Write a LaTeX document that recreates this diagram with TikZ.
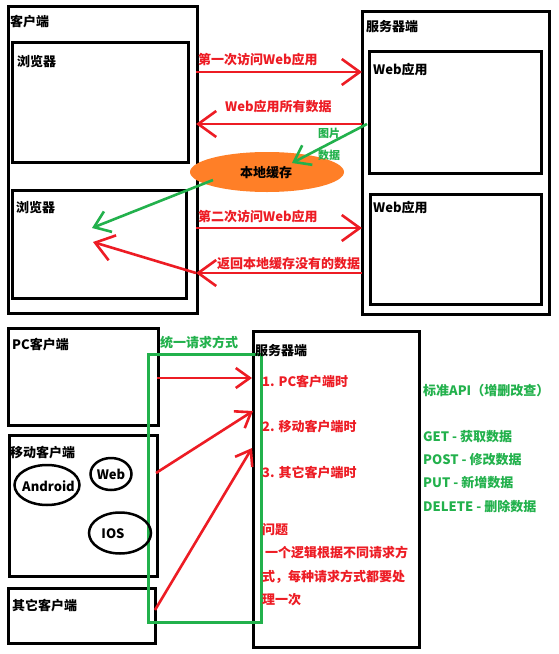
\documentclass[tikz,border=0pt]{standalone}
\usepackage{fontspec}
\setmainfont{Noto Sans CJK SC}
\usetikzlibrary{arrows.meta,shapes.geometric,positioning}
\definecolor{pred}{RGB}{237,28,36}
\definecolor{pgreen}{RGB}{34,177,76}
\definecolor{porange}{RGB}{255,127,39}
\tikzset{
  box/.style={draw,line width=3pt,anchor=north west,inner sep=0pt},
  oval/.style={draw,ellipse,line width=2.5pt,inner sep=0pt},
  lbl/.style={anchor=west,inner sep=0pt,font=\bfseries\fontsize{13}{15}\selectfont},
  rarr/.style={draw=pred,line width=2.6pt,-{Straight Barb[length=18pt,width=26pt]}},
  rarrs/.style={draw=pred,line width=2.6pt,-{Straight Barb[length=14pt,width=20pt]}},
  garr/.style={draw=pgreen,line width=2.6pt,-{Straight Barb[length=15pt,width=22pt]}}
}
\begin{document}
\begin{tikzpicture}[x=1pt,y=-1pt]
\useasboundingbox[fill=white] (0,0) rectangle (558,654);
% top: client, server and the local cache
\node[box,minimum width=189pt,minimum height=307pt] (client) at (7,5) {};
\node[box,minimum width=176pt,minimum height=120pt] (brow1) at (11,41) {};
\node[box,minimum width=174pt,minimum height=108pt] (brow2) at (11,189) {};
\node[box,minimum width=187pt,minimum height=303pt] (server) at (361,10) {};
\node[box,minimum width=172pt,minimum height=122pt] (web1) at (368,50) {};
\node[box,minimum width=171pt,minimum height=110pt] (web2) at (369,193) {};
\node[ellipse,fill=porange,minimum width=154pt,minimum height=40pt] (cache) at (267,172) {};

\node[lbl] (tclient) at (10,22) {客户端};
\node[lbl] (tbrow1) at (17,62) {浏览器};
\node[lbl] (tbrow2) at (16,208) {浏览器};
\node[lbl] (tserver) at (366,27) {服务器端};
\node[lbl] (tweb1) at (373,70) {Web应用};
\node[lbl] (tweb2) at (373,208) {Web应用};
\node[lbl,anchor=center] (tcache) at (266,173) {本地缓存};

\coordinate (a1s) at (196,72);   \coordinate (a1e) at (362,72);
\coordinate (a2s) at (362,124);  \coordinate (a2e) at (196,124);
\coordinate (g1s) at (367,124);  \coordinate (g1e) at (292,163);
\coordinate (g2s) at (213,180);  \coordinate (g2e) at (92,228);
\coordinate (a3s) at (196,228);  \coordinate (a3e) at (362,228);
\coordinate (a4s) at (362,273);  \coordinate (a4e) at (196,273);
\coordinate (a5e) at (93,242);

\draw[rarr] (a1s) -- (a1e);
\draw[rarr] (a2s) -- (a2e);
\draw[garr] (g1s) -- (g1e);
\draw[garr] (g2s) -- (g2e);
\draw[rarr] (a3s) -- (a3e);
\draw[rarr] (a4s) -- (a4e);
\draw[rarr] (a4e) -- (a5e);

\node[lbl,text=pred] (t1) at (198,60) {第一次访问Web应用};
\node[lbl,text=pred] (t2) at (225,107) {Web应用所有数据};
\node[lbl,text=pgreen,font=\bfseries\fontsize{11}{13}\selectfont] (tg1) at (318,133) {图片};
\node[lbl,text=pgreen,font=\bfseries\fontsize{11}{13}\selectfont] (tg2) at (318,155) {数据};
\node[lbl,text=pred] (t3) at (198,217) {第二次访问Web应用};
\node[lbl,text=pred] (t4) at (217,264) {返回本地缓存没有的数据};

% bottom: many clients, one server
\node[box,minimum width=150pt,minimum height=97pt] (pc) at (7,327) {};
\node[box,minimum width=148pt,minimum height=141pt] (mobile) at (8,434) {};
\node[box,minimum width=147pt,minimum height=55pt] (other) at (7,587) {};
\node[box,minimum width=166pt,minimum height=316pt] (server2) at (252,330) {};
\node[box,draw=pgreen,minimum width=113pt,minimum height=268pt] (unify) at (147,353) {};
\node[oval,minimum width=65pt,minimum height=40pt] (android) at (47,485) {};
\node[oval,minimum width=41pt,minimum height=32pt] (webc) at (111,474) {};
\node[oval,minimum width=62pt,minimum height=41pt] (ios) at (120,533) {};

\node[lbl] (tpc) at (12,345) {PC客户端};
\node[lbl] (tmobile) at (10,453) {移动客户端};
\node[lbl] (tother) at (12,606) {其它客户端};
\node[lbl] (tserver2) at (255,351) {服务器端};
\node[lbl] (tandroid) at (22,486) {Android};
\node[lbl,anchor=center] (twebc) at (111,474) {Web};
\node[lbl,anchor=center] (tios) at (113,534) {IOS};
\node[lbl,text=pgreen] (tunify) at (160,343) {统一请求方式};

\coordinate (b1s) at (157,378); \coordinate (b1e) at (252,378);
\coordinate (b2s) at (156,473); \coordinate (b2e) at (253,411);
\coordinate (b3s) at (155,610); \coordinate (b3e) at (252,448);
\draw[rarrs] (b1s) -- (b1e);
\draw[rarrs] (b2s) -- (b2e);
\draw[rarrs] (b3s) -- (b3e);

\node[lbl,text=pred] (r1) at (262,382) {1. PC客户端时};
\node[lbl,text=pred] (r2) at (262,427) {2. 移动客户端时};
\node[lbl,text=pred] (r3) at (262,473) {3. 其它客户端时};
\node[lbl,text=pred] (q0) at (262,530) {问题};
\node[lbl,text=pred] (q1) at (262,553) {\ 一个逻辑根据不同请求方};
\node[lbl,text=pred] (q2) at (262,577) {式，每种请求方式都要处};
\node[lbl,text=pred] (q3) at (262,600) {理一次};

\node[lbl,text=pgreen] (api) at (423,391) {标准API（增删改查）};
\node[lbl,text=pgreen] (get) at (423,437) {GET - 获取数据};
\node[lbl,text=pgreen] (post) at (423,460) {POST - 修改数据};
\node[lbl,text=pgreen] (put) at (423,483) {PUT - 新增数据};
\node[lbl,text=pgreen] (del) at (423,507) {DELETE - 删除数据};
\end{tikzpicture}
\end{document}
